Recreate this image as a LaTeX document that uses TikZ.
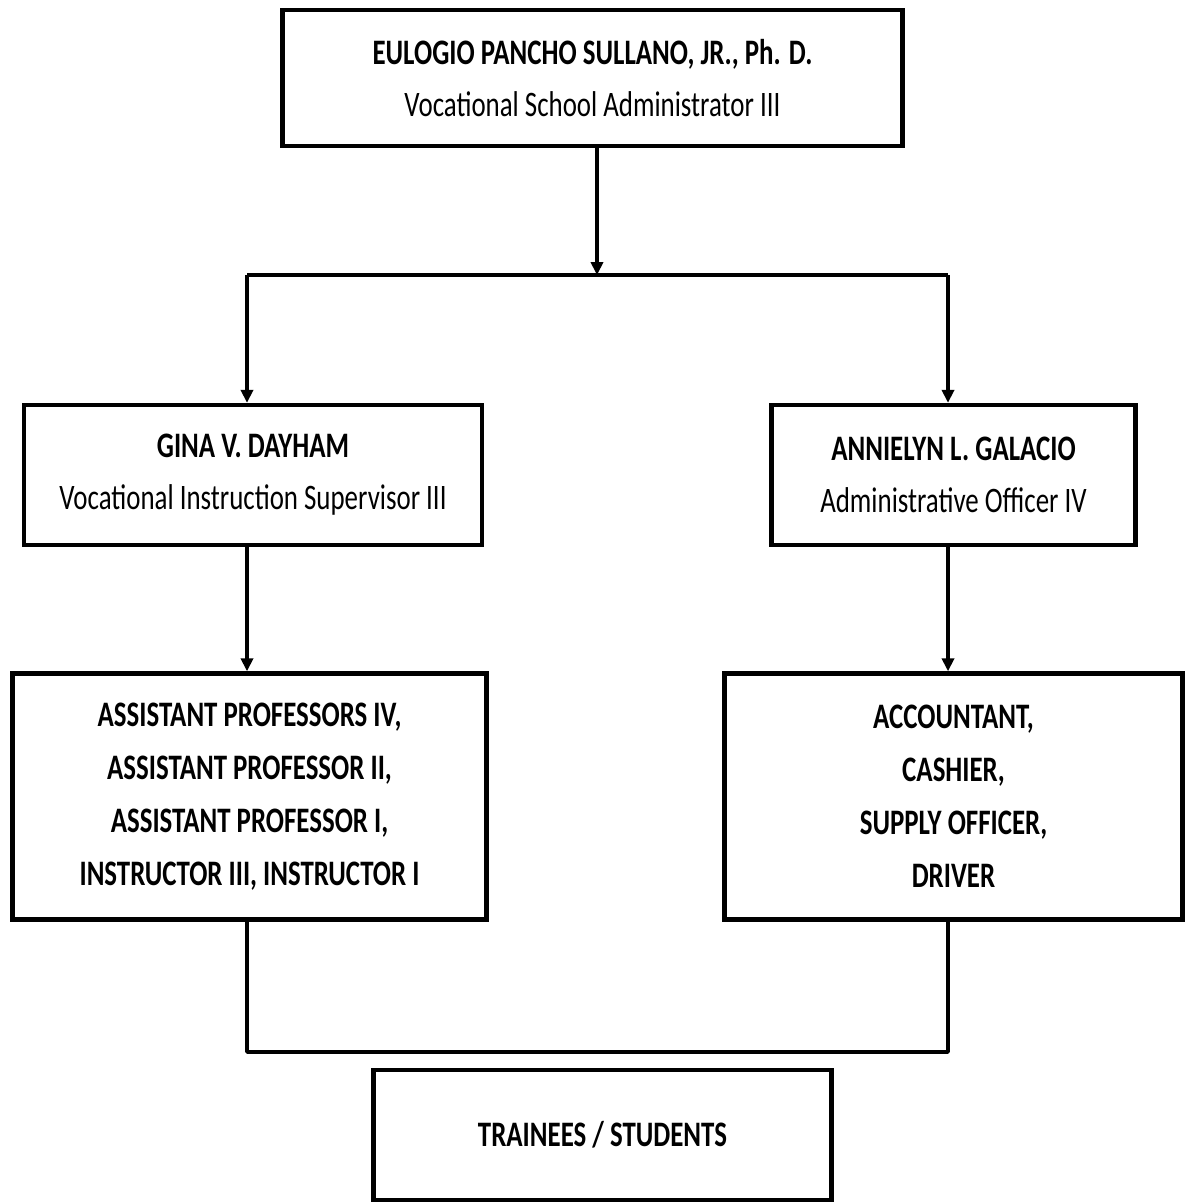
\documentclass[tikz,border=0pt]{standalone}
\usepackage{fontspec}
\setmainfont[FakeStretch=0.75]{Carlito}
\usepackage{tikz}
\usetikzlibrary{arrows.meta}
\tikzstyle{office} = [rectangle, draw=black, line width=0.11cm, fill=white, align=center, inner sep=0pt, font=\fontsize{25.5}{37}\selectfont]
\tikzstyle{arrow} = [line width=0.09cm, -{Triangle[length=0.32cm, width=0.3cm]}]
\tikzstyle{link} = [line width=0.09cm, line join=round]

\begin{document}
\begin{tikzpicture}[x=0.025cm, y=-0.025cm]
            \useasboundingbox (0,0) rectangle (1190,1202);
            % Nodes
            \node (admin) [office, minimum width=15.5cm, minimum height=3.4cm] at (592.5,78) {\textbf{EULOGIO PANCHO SULLANO, JR., Ph. D.}\\Vocational School Administrator III};
            \node (supervisor) [office, minimum width=11.45cm, minimum height=3.5cm] at (253,475) {\textbf{GINA V. DAYHAM}\\Vocational Instruction Supervisor III};
            \node (officer) [office, minimum width=9.1cm, minimum height=3.5cm] at (953.5,475) {\textbf{ANNIELYN L. GALACIO}\\Administrative Officer IV};
            \node (faculty) [office, minimum width=11.85cm, minimum height=6.15cm, font=\fontsize{25.5}{37.7}\selectfont\bfseries] at (249.5,796.5) {ASSISTANT PROFESSORS IV,\\ASSISTANT PROFESSOR II,\\ASSISTANT PROFESSOR I,\\INSTRUCTOR III, INSTRUCTOR I};
            \node (staff) [office, minimum width=11.45cm, minimum height=6.15cm, font=\fontsize{25.5}{37.7}\selectfont\bfseries] at (953.5,796.5) {ACCOUNTANT,\\CASHIER,\\SUPPLY OFFICER,\\DRIVER};
            \node (trainees) [office, minimum width=11.45cm, minimum height=3.25cm, font=\fontsize{25.5}{37}\selectfont\bfseries] at (602.5,1135) {TRAINEES / STUDENTS};

            % Branch points
            \coordinate (split) at (597,275);
            \coordinate (lsplit) at (247,275);
            \coordinate (rsplit) at (948,275);
            \coordinate (join) at (597,1052);

            % Arrows
            \draw [arrow] (admin.south -| split) -- (split);
            \draw [link] (lsplit) -- (rsplit);
            \draw [arrow] (lsplit) -- (lsplit |- supervisor.north);
            \draw [arrow] (rsplit) -- (rsplit |- officer.north);
            \draw [arrow] (supervisor.south -| lsplit) -- (faculty.north -| lsplit);
            \draw [arrow] (officer.south -| rsplit) -- (staff.north -| rsplit);
            \draw [link] (faculty.south -| lsplit) -- (lsplit |- join) -- (rsplit |- join) -- (staff.south -| rsplit);
        \end{tikzpicture}
\end{document}
